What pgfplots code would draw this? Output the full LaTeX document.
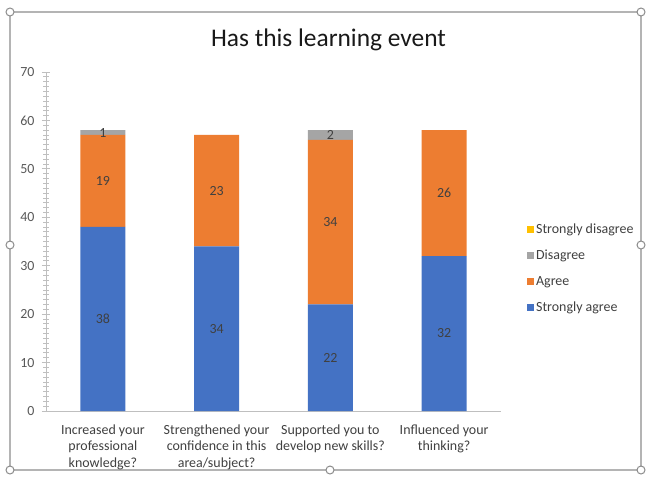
\documentclass[border=0pt]{standalone}
\usepackage{pgfplots}
\pgfplotsset{compat=1.18}
\usepackage{pgfplotstable}
\usepackage{fontspec}
\setmainfont{Carlito}
\definecolor{cblue}{HTML}{4472C4}
\definecolor{corange}{HTML}{ED7D31}
\definecolor{cgray}{HTML}{A5A5A5}
\definecolor{cyellow}{HTML}{FFC000}
\definecolor{txt}{HTML}{595959}
\definecolor{lbl}{HTML}{404040}
\definecolor{axisgray}{HTML}{BFBFBF}
\definecolor{framegray}{HTML}{8C8C8C}

\pgfplotstableread{
x sa ag di sd
0 38 19 1 0
1 34 23 0 0
2 22 34 2 0
3 32 26 0 0
}\datatable
\pgfplotstablecreatecol[expr={\thisrow{sa}/2}]{m1}\datatable
\pgfplotstablecreatecol[expr={\thisrow{sa}+\thisrow{ag}/2}]{m2}\datatable
\pgfplotstablecreatecol[expr={\thisrow{sa}+\thisrow{ag}+\thisrow{di}/2}]{m3}\datatable
\pgfplotstablecreatecol[expr={\thisrow{sa}+\thisrow{ag}+\thisrow{di}+\thisrow{sd}/2}]{m4}\datatable

\pgfplotsset{
  common/.style={
    at={(46bp,-411bp)}, anchor=south west,
    scale only axis, width=455bp, height=339bp,
    xmin=-0.5, xmax=3.5, ymin=0, ymax=70,
    /pgf/number format/assume math mode=true,
  },
  seglabel/.style={
    draw=none, mark=none,
    point meta=explicit,
    nodes near coords={\pgfmathfloatifflags{\pgfplotspointmeta}{0}{}{\pgfmathprintnumber{\pgfplotspointmeta}}},
    every node near coord/.append style={anchor=center, font=\fontsize{14}{16}\selectfont, text=lbl},
  },
}

\begin{document}
\begin{tikzpicture}
\useasboundingbox (0bp,-480bp) rectangle (647bp,0bp);
\fill[white] (0bp,-480bp) rectangle (647bp,0bp);
\draw[framegray, line width=1.2bp, rounded corners=3bp] (10bp,-12bp) rectangle (641bp,-470bp);
\foreach \p in {(10bp,-12bp),(641bp,-12bp),(10bp,-245bp),(641bp,-245bp),(10bp,-470bp),(641bp,-470bp),(330bp,-470bp)}{
  \draw[framegray, fill=white, line width=1bp] \p circle (4bp);
}
\node[font=\fontsize{25.5}{28}\selectfont, text=black!90] at (328.5bp,-40bp) {Has this learning event};
\begin{axis}[
  common,
  ybar stacked, bar width=45bp,
  ytick={0,10,...,70}, minor y tick num=9,
  xtick={0,1,2,3},
  xticklabels={{Increased your\\professional\\knowledge?},{Strengthened your\\confidence in this\\area/subject?},{Supported you to\\develop new skills?},{Influenced your\\thinking?}},
  xticklabel style={align=center, font=\fontsize{14}{16.5}\selectfont, text=lbl, yshift=-6bp},
  yticklabel style={font=\fontsize{14}{16}\selectfont, text=txt, xshift=-4bp},
  major x tick style={draw=none},
  extra x ticks={0.5,1.5,2.5,3.5},
  extra x tick labels={},
  extra x tick style={major tick style={draw=axisgray}, major tick length=9bp},
  axis x line*=bottom, axis y line*=left,
  axis line style={axisgray, line width=0.8bp},
  tick style={axisgray, line width=0.8bp},
  tick align=center,
  major tick length=8bp, minor tick length=5bp,
  legend style={at={(1.057,0.42)}, anchor=west, draw=none, fill=none, inner sep=0pt,
    font=\fontsize{14}{16}\selectfont, text=lbl, row sep=11bp},
  legend cell align=left,
  reverse legend,
  legend image code/.code={\fill[#1, draw=none] (0bp,-3.5bp) rectangle (7bp,3.5bp);},
]
\addplot[fill=cblue, draw=none] table[x=x, y=sa] {\datatable};
\addplot[fill=corange, draw=none] table[x=x, y=ag] {\datatable};
\addplot[fill=cgray, draw=none] table[x=x, y=di] {\datatable};
\addplot[fill=cyellow, draw=none] table[x=x, y=sd] {\datatable};
\legend{Strongly agree, Agree, Disagree, Strongly disagree}
\end{axis}
\begin{axis}[common, hide axis]
\addplot[seglabel] table[x=x, y=m1, meta=sa] {\datatable};
\addplot[seglabel] table[x=x, y=m2, meta=ag] {\datatable};
\addplot[seglabel] table[x=x, y=m3, meta=di] {\datatable};
\addplot[seglabel] table[x=x, y=m4, meta=sd] {\datatable};
\end{axis}
\end{tikzpicture}
\end{document}
